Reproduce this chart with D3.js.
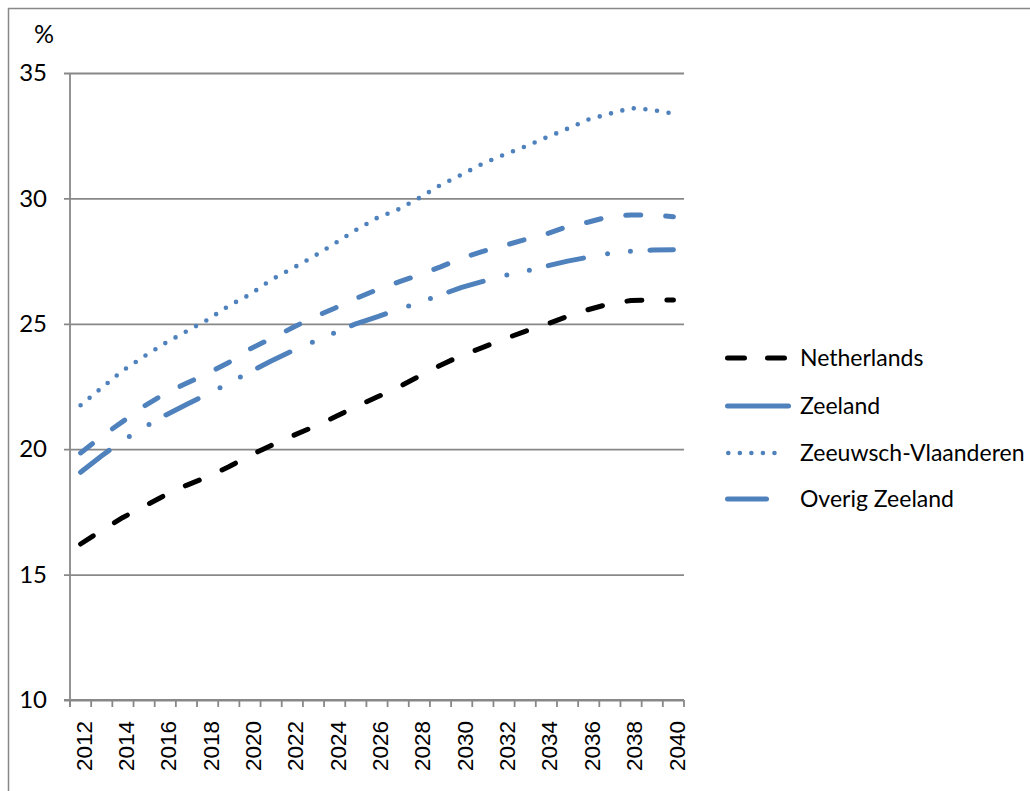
<!DOCTYPE html>
<html>
<head>
<meta charset="utf-8">
<script src="https://cdn.jsdelivr.net/npm/d3@7/dist/d3.min.js"></script>
<style>
  html, body { margin: 0; padding: 0; background: #fff; }
  svg { display: block; }
</style>
</head>
<body>
<svg id="chart" width="1030" height="791"></svg>
<script>
// ---- data ----
const years = d3.range(2012, 2041);
const yTicks = [10, 15, 20, 25, 30, 35];
const xTickLabels = d3.range(2012, 2041, 2);
const unitLabel = "%";

const netherlands = [16.22,16.76,17.28,17.72,18.17,18.56,18.90,19.30,19.75,20.15,20.53,20.89,21.28,21.70,22.08,22.47,22.91,23.35,23.74,24.06,24.39,24.70,24.98,25.30,25.57,25.80,25.93,25.95,25.95];
const zeeland = [19.08,19.74,20.35,20.87,21.35,21.78,22.20,22.63,23.08,23.52,23.92,24.28,24.64,25.00,25.28,25.57,25.85,26.15,26.45,26.69,26.92,27.09,27.30,27.50,27.66,27.81,27.90,27.94,27.95];
const zeeuwschVlaanderen = [21.75,22.45,23.14,23.70,24.23,24.70,25.16,25.72,26.17,26.75,27.21,27.68,28.20,28.74,29.22,29.56,30.02,30.53,30.95,31.39,31.74,32.07,32.43,32.78,33.15,33.38,33.60,33.53,33.38];
const overigZeeland = [19.85,20.51,21.11,21.72,22.22,22.63,23.02,23.46,24.00,24.41,24.84,25.26,25.62,26.01,26.36,26.66,26.95,27.27,27.62,27.89,28.12,28.36,28.58,28.88,29.06,29.28,29.34,29.34,29.27];

const seriesNames = ["Netherlands", "Zeeland", "Zeeuwsch-Vlaanderen", "Overig Zeeland"];

// ---- styles ----
const blue = "#4F81BD";
const styles = [
  { values: netherlands, color: "#000", width: 5, dash: "15,25", legendDash: "17,23", legendLen: 57 },
  { values: zeeland, color: blue, width: 5, dash: "36,24.5,0,23,0,19.5", legendDash: null, legendLen: 61 },
  { values: zeeuwschVlaanderen, color: blue, width: 4.6, dash: "0,11.7", legendDash: "0,11.54", legendLen: 57.7, legendStart: 728.3 },
  { values: overigZeeland, color: blue, width: 5, dash: "15,25", legendDash: null, legendLen: 39 }
];

const svg = d3.select("#chart");
const plotLeft = 70, plotRight = 684, plotTop = 73, plotBottom = 700;

// outer frame
svg.append("rect")
  .attr("x", 8.5).attr("y", 8.5)
  .attr("width", 1040).attr("height", 800)
  .attr("fill", "none").attr("stroke", "#888").attr("stroke-width", 1.5);

const x = d3.scaleBand().domain(years).range([plotLeft, plotRight]).paddingInner(0).paddingOuter(0);
const y = d3.scaleLinear().domain([10, 35]).range([plotBottom, plotTop]);

// gridlines + y axis ticks
const yAxis = d3.axisLeft(y).tickValues(yTicks).tickSize(-(plotRight - plotLeft + 6)).tickPadding(17).tickFormat(d3.format("d"));
const gy = svg.append("g").attr("transform", `translate(${plotLeft - 6},0)`).call(yAxis);
gy.select(".domain").remove();
gy.selectAll(".tick line").attr("stroke", "#888").attr("stroke-width", 1.8);
gy.selectAll(".tick text")
  .attr("font-family", "Lato, 'Open Sans', sans-serif")
  .attr("font-size", 24).attr("fill", "#000");

// y axis line
svg.append("line")
  .attr("x1", plotLeft).attr("x2", plotLeft).attr("y1", plotTop).attr("y2", plotBottom + 7)
  .attr("stroke", "#888").attr("stroke-width", 1.8);

// unit label
svg.append("text").text(unitLabel)
  .attr("x", 44).attr("y", 43)
  .attr("text-anchor", "middle")
  .attr("font-family", "Lato, 'Open Sans', sans-serif")
  .attr("font-size", 25).attr("fill", "#000");

// x axis: ticks at category boundaries
const boundaries = years.map(d => x(d)).concat([plotRight]);
svg.append("line")
  .attr("x1", plotLeft - 6).attr("x2", plotRight).attr("y1", plotBottom).attr("y2", plotBottom)
  .attr("stroke", "#888").attr("stroke-width", 1.8);
svg.append("g").selectAll("line").data(boundaries).join("line")
  .attr("x1", d => d).attr("x2", d => d)
  .attr("y1", plotBottom).attr("y2", plotBottom + 7)
  .attr("stroke", "#888").attr("stroke-width", 1.8);

// x tick labels (rotated)
const xAxis = d3.axisBottom(x).tickValues(xTickLabels).tickSize(0).tickPadding(0);
const gx = svg.append("g").attr("transform", `translate(0,${plotBottom})`).call(xAxis);
gx.select(".domain").remove();
gx.selectAll(".tick text")
  .attr("font-family", "'Liberation Sans', Arial, sans-serif")
  .attr("font-size", 22.5).attr("fill", "#000")
  .attr("transform", "translate(3,21) rotate(-90)")
  .attr("text-anchor", "end")
  .attr("dy", "0.36em")
  .attr("x", 0).attr("y", 0);

// lines
const line = d3.line()
  .x((d, i) => x(years[i]) + x.bandwidth() / 2)
  .y(d => y(d));

styles.forEach(s => {
  svg.append("path")
    .datum(s.values)
    .attr("d", line)
    .attr("fill", "none")
    .attr("stroke", s.color)
    .attr("stroke-width", s.width)
    .attr("stroke-linecap", "round")
    .attr("stroke-linejoin", "round")
    .attr("stroke-dasharray", s.dash);
});

// legend
const legendY = [358, 406, 453, 499];
const lg = svg.append("g");
styles.forEach((s, i) => {
  const x0 = s.legendStart || 727.5;
  lg.append("line")
    .attr("x1", x0).attr("x2", x0 + s.legendLen)
    .attr("y1", legendY[i]).attr("y2", legendY[i])
    .attr("stroke", s.color)
    .attr("stroke-width", s.width)
    .attr("stroke-linecap", "round")
    .attr("stroke-dasharray", s.legendDash);
  lg.append("text")
    .text(seriesNames[i])
    .attr("x", 800).attr("y", legendY[i])
    .attr("dy", "0.35em")
    .attr("font-family", "Lato, 'Open Sans', sans-serif")
    .attr("font-size", 23).attr("fill", "#000");
});
</script>
</body>
</html>
